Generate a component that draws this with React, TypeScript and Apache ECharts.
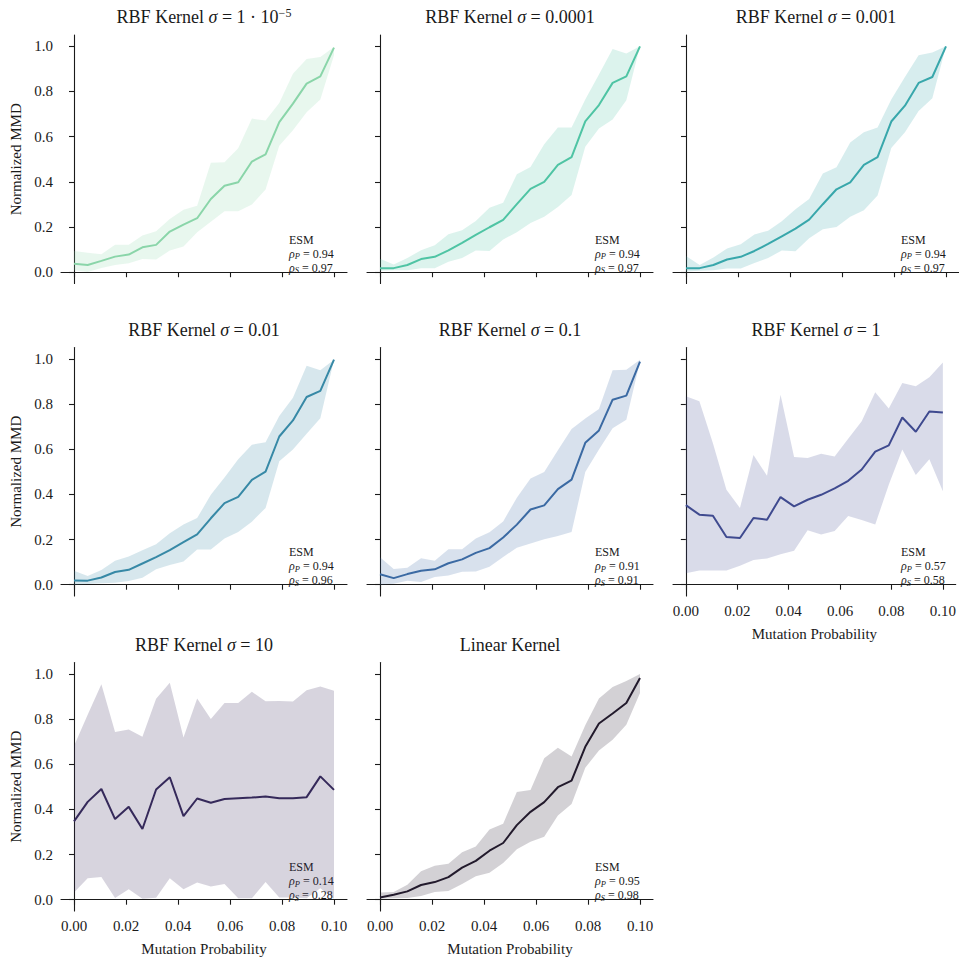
import React, { useEffect, useRef } from "react";
import * as echarts from "echarts";

const xs = [0, 0.00526, 0.01053, 0.01579, 0.02105, 0.02632, 0.03158, 0.03684, 0.04211, 0.04737, 0.05263, 0.05789, 0.06316, 0.06842, 0.07368, 0.07895, 0.08421, 0.08947, 0.09474, 0.1];

const xTicks = [0, 0.02, 0.04, 0.06, 0.08, 0.1];
const yTicks = [0, 0.2, 0.4, 0.6, 0.8, 1.0];

const titles = [
  "{t|RBF Kernel }{i|σ}{t| = 1 · 10}{sup|−5}",
  "{t|RBF Kernel }{i|σ}{t| = 0.0001}",
  "{t|RBF Kernel }{i|σ}{t| = 0.001}",
  "{t|RBF Kernel }{i|σ}{t| = 0.01}",
  "{t|RBF Kernel }{i|σ}{t| = 0.1}",
  "{t|RBF Kernel }{i|σ}{t| = 1}",
  "{t|RBF Kernel }{i|σ}{t| = 10}",
  "{t|Linear Kernel}",
];

const rhoP = ["0.94", "0.94", "0.94", "0.94", "0.91", "0.57", "0.14", "0.95"];
const rhoS = ["0.97", "0.97", "0.97", "0.96", "0.91", "0.58", "0.28", "0.98"];

const colors = ["#8ad5a9", "#4fc4a4", "#38a7ab", "#3789a6", "#3b6aa3", "#3f4a8f", "#35295a", "#221a2c"];

const mean1 = [0.037, 0.032, 0.05, 0.069, 0.078, 0.11, 0.121, 0.18, 0.211, 0.239, 0.324, 0.383, 0.398, 0.49, 0.522, 0.664, 0.746, 0.835, 0.867, 0.994];
const hi1 = [0.094, 0.086, 0.08, 0.121, 0.122, 0.162, 0.181, 0.236, 0.276, 0.294, 0.484, 0.487, 0.549, 0.68, 0.671, 0.749, 0.878, 0.944, 0.953, 0.997];
const lo1 = [0.009, 0.001, 0.019, 0.032, 0.04, 0.058, 0.056, 0.096, 0.114, 0.177, 0.223, 0.27, 0.27, 0.3, 0.366, 0.56, 0.628, 0.708, 0.764, 0.96];

const mean2 = [0.018, 0.018, 0.032, 0.058, 0.068, 0.097, 0.13, 0.165, 0.199, 0.232, 0.301, 0.369, 0.4, 0.475, 0.509, 0.668, 0.74, 0.838, 0.867, 1.0];
const hi2 = [0.06, 0.034, 0.063, 0.097, 0.119, 0.168, 0.186, 0.227, 0.285, 0.307, 0.434, 0.466, 0.566, 0.64, 0.64, 0.764, 0.875, 0.988, 0.968, 1.0];
const lo2 = [0.006, 0.009, 0.009, 0.018, 0.018, 0.046, 0.063, 0.096, 0.094, 0.145, 0.177, 0.218, 0.245, 0.289, 0.342, 0.555, 0.636, 0.676, 0.761, 1.0];

const mean3 = [0.018, 0.018, 0.032, 0.056, 0.068, 0.094, 0.125, 0.159, 0.193, 0.233, 0.301, 0.367, 0.398, 0.475, 0.509, 0.667, 0.737, 0.838, 0.864, 1.0];
const hi3 = [0.072, 0.032, 0.065, 0.105, 0.124, 0.167, 0.184, 0.226, 0.279, 0.324, 0.437, 0.465, 0.574, 0.619, 0.64, 0.764, 0.864, 0.96, 0.972, 1.0];
const lo3 = [0.003, 0.006, 0.009, 0.016, 0.016, 0.041, 0.063, 0.096, 0.093, 0.15, 0.19, 0.2, 0.246, 0.274, 0.339, 0.55, 0.619, 0.714, 0.77, 1.0];

const mean4 = [0.019, 0.018, 0.032, 0.056, 0.066, 0.094, 0.122, 0.153, 0.188, 0.223, 0.294, 0.361, 0.389, 0.464, 0.501, 0.656, 0.727, 0.831, 0.858, 0.996];
const hi4 = [0.062, 0.038, 0.065, 0.106, 0.125, 0.153, 0.179, 0.228, 0.267, 0.295, 0.398, 0.474, 0.555, 0.62, 0.631, 0.747, 0.828, 0.969, 0.949, 0.996];
const lo4 = [0.0, 0.003, 0.006, 0.009, 0.016, 0.031, 0.068, 0.087, 0.103, 0.156, 0.156, 0.204, 0.233, 0.279, 0.339, 0.546, 0.598, 0.668, 0.737, 0.996];

const mean5 = [0.046, 0.029, 0.047, 0.062, 0.068, 0.095, 0.112, 0.141, 0.162, 0.209, 0.266, 0.333, 0.351, 0.423, 0.465, 0.628, 0.683, 0.819, 0.837, 0.988];
const hi5 = [0.122, 0.07, 0.075, 0.117, 0.106, 0.157, 0.157, 0.204, 0.232, 0.28, 0.385, 0.47, 0.499, 0.595, 0.689, 0.736, 0.778, 0.949, 0.952, 0.996];
const lo5 = [0.0, 0.004, 0.018, 0.012, 0.034, 0.041, 0.057, 0.059, 0.079, 0.123, 0.164, 0.182, 0.201, 0.216, 0.233, 0.499, 0.599, 0.693, 0.73, 0.988];

const mean6 = [0.352, 0.31, 0.305, 0.211, 0.207, 0.295, 0.288, 0.388, 0.347, 0.376, 0.398, 0.426, 0.46, 0.51, 0.589, 0.617, 0.74, 0.677, 0.767, 0.762];
const hi6 = [0.834, 0.812, 0.626, 0.42, 0.339, 0.574, 0.482, 0.841, 0.565, 0.561, 0.58, 0.568, 0.646, 0.724, 0.852, 0.78, 0.893, 0.878, 0.918, 0.984];
const lo6 = [0.051, 0.063, 0.063, 0.063, 0.084, 0.109, 0.116, 0.135, 0.15, 0.241, 0.222, 0.238, 0.304, 0.286, 0.267, 0.442, 0.599, 0.486, 0.555, 0.414];

const mean7 = [0.347, 0.433, 0.49, 0.357, 0.411, 0.313, 0.488, 0.542, 0.37, 0.448, 0.429, 0.446, 0.449, 0.452, 0.457, 0.449, 0.449, 0.454, 0.546, 0.486];
const hi7 = [0.68, 0.819, 0.954, 0.742, 0.753, 0.721, 0.889, 0.96, 0.718, 0.891, 0.8, 0.871, 0.871, 0.92, 0.879, 0.88, 0.877, 0.927, 0.944, 0.925];
const lo7 = [0.032, 0.095, 0.101, 0.007, 0.046, 0.004, 0.009, 0.095, 0.046, 0.076, 0.059, 0.07, 0.006, 0.006, 0.078, 0.01, 0.01, 0.006, 0.051, 0.004];

const mean8 = [0.01, 0.022, 0.037, 0.065, 0.078, 0.1, 0.142, 0.172, 0.217, 0.251, 0.33, 0.389, 0.432, 0.498, 0.527, 0.677, 0.78, 0.824, 0.871, 0.981];
const hi8 = [0.032, 0.034, 0.066, 0.126, 0.15, 0.159, 0.21, 0.236, 0.311, 0.336, 0.477, 0.486, 0.626, 0.673, 0.634, 0.772, 0.891, 0.941, 0.968, 0.999];
const lo8 = [0.004, 0.006, 0.007, 0.016, 0.034, 0.038, 0.069, 0.104, 0.119, 0.162, 0.223, 0.257, 0.279, 0.373, 0.424, 0.584, 0.661, 0.708, 0.775, 0.915];

const means = [mean1, mean2, mean3, mean4, mean5, mean6, mean7, mean8];
const his = [hi1, hi2, hi3, hi4, hi5, hi6, hi7, hi8];
const los = [lo1, lo2, lo3, lo4, lo5, lo6, lo7, lo8];

const FONT = "'Liberation Serif', 'DejaVu Serif', serif";
const INK = "#1a1a1a";

// layout
const colLeft = [61, 367, 673];
const rowTop = [35, 347.5, 662.5];
const gW = 286;
const gH = 248.5;

export default function App() {
  const ref = useRef<HTMLDivElement>(null);

  useEffect(() => {
    if (!ref.current) return;
    const chart = echarts.init(ref.current, undefined, { renderer: "svg" });

    const grids: any[] = [];
    const xAxes: any[] = [];
    const yAxes: any[] = [];
    const series: any[] = [];
    const graphics: any[] = [];

    for (let p = 0; p < 8; p++) {
      const r = Math.floor(p / 3);
      const c = p % 3;
      const left = colLeft[c];
      const top = rowTop[r];
      grids.push({ left, top, width: gW, height: gH, containLabel: false });
      const showX = p >= 5;
      const showY = c === 0;
      xAxes.push({
        type: "value",
        gridIndex: p,
        min: -0.005,
        max: 0.105,
        splitLine: { show: false },
        axisLine: { show: true, lineStyle: { color: INK, width: 1.1 } },
        axisTick: { show: true, length: 5, customValues: xTicks, lineStyle: { color: INK, width: 1.1 } },
        axisLabel: {
          show: showX,
          customValues: xTicks,
          formatter: (v: number) => v.toFixed(2),
          color: INK,
          fontFamily: FONT,
          fontSize: 15,
          margin: 7,
        },
        name: showX ? "Mutation Probability" : "",
        nameLocation: "middle",
        nameGap: 30,
        nameTextStyle: { color: INK, fontFamily: FONT, fontSize: 15 },
      });
      yAxes.push({
        type: "value",
        gridIndex: p,
        min: -0.05,
        max: 1.05,
        splitLine: { show: false },
        axisLine: { show: true, lineStyle: { color: INK, width: 1.1 } },
        axisTick: { show: true, length: 5, customValues: yTicks, lineStyle: { color: INK, width: 1.1 } },
        axisLabel: {
          show: showY,
          customValues: yTicks,
          formatter: (v: number) => v.toFixed(1),
          color: INK,
          fontFamily: FONT,
          fontSize: 15,
          margin: 8,
        },
        name: showY ? "Normalized MMD" : "",
        nameLocation: "middle",
        nameGap: 38,
        nameRotate: 90,
        nameTextStyle: { color: INK, fontFamily: FONT, fontSize: 15 },
      });

      const lo = los[p];
      const hi = his[p];
      const col = colors[p];
      series.push({
        type: "custom",
        xAxisIndex: p,
        yAxisIndex: p,
        data: xs.map((x, i) => [x, lo[i], hi[i]]),
        encode: { x: 0, y: [1, 2] },
        silent: true,
        renderItem: (params: any, api: any) => {
          if (params.dataIndex !== 0) return null;
          const pts: number[][] = [];
          for (let i = 0; i < xs.length; i++) pts.push(api.coord([xs[i], hi[i]]));
          for (let i = xs.length - 1; i >= 0; i--) pts.push(api.coord([xs[i], lo[i]]));
          return {
            type: "polygon",
            shape: { points: pts },
            style: { fill: col, opacity: 0.2, stroke: "none" },
          };
        },
        z: 1,
      });
      series.push({
        type: "line",
        xAxisIndex: p,
        yAxisIndex: p,
        data: xs.map((x, i) => [x, means[p][i]]),
        symbol: "none",
        lineStyle: { color: col, width: 2 },
        itemStyle: { color: col },
        z: 3,
      });

      graphics.push({
        type: "text",
        x: left + gW / 2,
        y: top - 18,
        style: {
          text: titles[p],
          align: "center",
          verticalAlign: "middle",
          rich: {
            t: { fontFamily: FONT, fontSize: 18, fill: INK, lineHeight: 20 },
            i: { fontFamily: FONT, fontSize: 18, fontStyle: "italic", fill: INK, lineHeight: 20 },
            sup: { fontFamily: FONT, fontSize: 12, fill: INK, verticalAlign: "top", lineHeight: 12 },
          },
        },
      });

      graphics.push({
        type: "text",
        x: left + gW - 58,
        y: top + gH - 51,
        style: {
          text: `{t|ESM}\n{i|ρ}{sub|P}{t| = ${rhoP[p]}}\n{i|ρ}{sub|S}{t| = ${rhoS[p]}}`,
          align: "left",
          verticalAlign: "top",
          rich: {
            t: { fontFamily: FONT, fontSize: 12, fill: INK, lineHeight: 14 },
            i: { fontFamily: FONT, fontSize: 12, fontStyle: "italic", fill: INK, lineHeight: 14 },
            sub: { fontFamily: FONT, fontSize: 8.5, fontStyle: "italic", fill: INK, lineHeight: 9, verticalAlign: "bottom" },
          },
        },
      });
    }

    chart.setOption({
      animation: false,
      backgroundColor: "#ffffff",
      grid: grids,
      xAxis: xAxes,
      yAxis: yAxes,
      series,
      graphic: graphics,
    });

    return () => chart.dispose();
  }, []);

  return (
    <div
      ref={ref}
      style={{ position: "fixed", left: 0, top: 0, width: 959, height: 961, background: "#fff" }}
    />
  );
}
